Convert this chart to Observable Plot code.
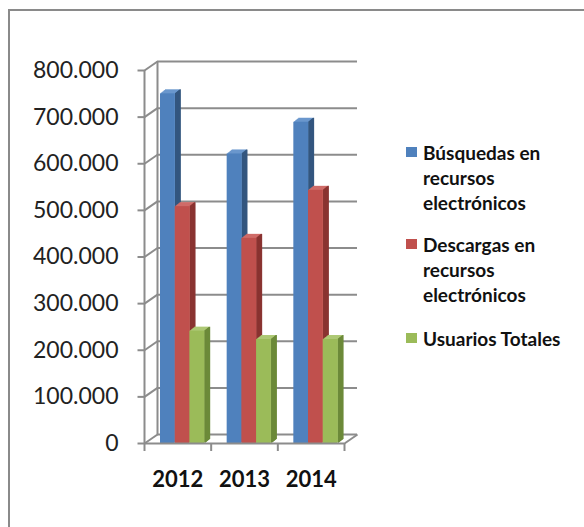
<!DOCTYPE html>
<html>
<head>
<meta charset="utf-8">
<script src="https://cdn.jsdelivr.net/npm/d3@7"></script>
<script src="https://cdn.jsdelivr.net/npm/@observablehq/plot@0.6"></script>
<style>
  html, body { margin: 0; padding: 0; background: #fff; overflow: hidden; }
  #wrap { position: relative; width: 584px; height: 527px; }
  #frame { position: absolute; left: 8px; top: 9px; width: 700px; height: 700px;
           border-left: 2px solid #8a8a8a; border-top: 2px solid #8a8a8a; }
  #chart { position: absolute; left: 0; top: 0; }
  .leg { position: absolute; left: 406px; font-family: Lato, "Open Sans", sans-serif;
         font-weight: bold; font-size: 19px; line-height: 25px; color: #111; }
  .leg .sw { position: absolute; left: 0; top: 7px; width: 11px; height: 10px; }
  .leg .tx { position: absolute; left: 17px; top: 0; width: 175px; white-space: nowrap; }
</style>
</head>
<body>
<div id="wrap">
  <div id="frame"></div>
  <div id="chart"></div>
</div>
<script>
// ---- data ----
const years = ["2012", "2013", "2014"];
const busquedas = [750000, 621000, 689000];
const descargas = [508000, 440000, 543000];
const usuarios  = [241000, 223000, 223000];
const seriesNames = [
  ["Búsquedas en", "recursos", "electrónicos"],
  ["Descargas en", "recursos", "electrónicos"],
  ["Usuarios Totales"]
];
const yTicks = [0, 100000, 200000, 300000, 400000, 500000, 600000, 700000, 800000];

// ---- styles ----
const frontColors = ["#4f81bd", "#c0504d", "#9bbb59"];
const topColors   = ["#6a97cd", "#cf6b68", "#adc874"];
const sideColors  = ["#34577f", "#8a3432", "#6c8a3a"];
const gridColor = "#8c8c8c";

// ---- layout (pixels) ----
const W = 380, H = 527;
const mL = 144, mR = 36, mT = 70, mB = 84;
const plotW = W - mL - mR, plotH = H - mT - mB;
const xMax = years.length, yMax = yTicks[yTicks.length - 1];
const px2x = xMax / plotW, px2y = yMax / plotH;
const WALL_DX = 13, WALL_DY = -9;     // depth of the walls, px
const BAR_DX = 5, BAR_DY = -4;        // depth of the bars, px
const barStart = 16 * px2x, barW = 14.7 * px2x;

const values = [busquedas, descargas, usuarios];
const rows = years.flatMap((yr, i) => values.map((vals, j) => ({year: yr, i, j, value: vals[i]})));
const bx1 = d => d.i + barStart + d.j * barW;
const bx2 = d => d.i + barStart + (d.j + 1) * barW;

const fmt = d => d === 0 ? "0" : d3.format(",")(d).replace(/,/g, ".");

const marks = [
  // back wall gridlines
  Plot.ruleY(yTicks, {x1: 0, x2: xMax, y: d => d, dx: WALL_DX, dy: WALL_DY, stroke: gridColor, strokeWidth: 2}),
  // back wall left edge
  Plot.ruleX([0], {x: d => d, y1: 0, y2: yMax, dx: WALL_DX, dy: WALL_DY, stroke: gridColor, strokeWidth: 2}),
  // side wall diagonals
  Plot.link(yTicks, {x1: 0, y1: d => d, x2: WALL_DX * px2x, y2: d => d - WALL_DY * px2y, stroke: gridColor, strokeWidth: 2}),
  // front axis line
  Plot.ruleX([0], {x: d => d, y1: 0, y2: yMax, stroke: gridColor, strokeWidth: 2}),
  // y ticks
  Plot.link(yTicks, {x1: -7 * px2x, x2: 0, y1: d => d, y2: d => d, stroke: gridColor, strokeWidth: 2}),
  // floor right diagonal
  Plot.link([0], {x1: xMax, y1: 0, x2: xMax + WALL_DX * px2x, y2: -WALL_DY * px2y, stroke: gridColor, strokeWidth: 2})
];

const STEPS = 6;
values.forEach((_, j) => {
  const data = rows.filter(r => r.j === j);
  for (let k = 1; k <= STEPS; k++) {
    marks.push(Plot.rect(data, {x1: bx1, x2: bx2, y1: 0, y2: "value", fill: topColors[j],
      dx: k * BAR_DX / STEPS, dy: k * BAR_DY / STEPS}));
  }
  for (let k = 0.5; k <= STEPS; k += 0.5) {
    marks.push(Plot.ruleX(data, {x: bx2, y1: 0, y2: "value", stroke: sideColors[j], strokeWidth: 1.2,
      dx: k * BAR_DX / STEPS, dy: k * BAR_DY / STEPS}));
  }
  marks.push(Plot.rect(data, {x1: bx1, x2: bx2, y1: 0, y2: "value", fill: frontColors[j]}));
});

marks.push(
  // floor front edge
  Plot.ruleY([0], {x1: 0, x2: xMax, y: d => d, stroke: gridColor, strokeWidth: 2}),
  // category ticks
  Plot.ruleX(d3.range(years.length + 1), {x: d => d, y1: 0, y2: -8 * px2y, stroke: gridColor, strokeWidth: 2}),
  // year labels
  Plot.text(years, {x: (d, i) => i + 0.5, y: () => 0, text: d => d, dy: 36, fontSize: 22,
    fontWeight: "bold", fill: "#111"})
);

const chart = Plot.plot({
  width: W, height: H,
  marginLeft: mL, marginRight: mR, marginTop: mT, marginBottom: mB,
  x: {domain: [0, xMax], axis: null},
  y: {domain: [0, yMax], ticks: yTicks, tickFormat: fmt, tickSize: 0, tickPadding: 26, label: null},
  style: {fontFamily: "Lato, 'Open Sans', sans-serif", fontSize: "23px", color: "#222",
          background: "transparent", overflow: "visible"},
  marks
});
document.getElementById("chart").appendChild(chart);

// ---- legend ----
const legendTops = [139.5, 231.5, 325.5];
const wrap = document.getElementById("wrap");
seriesNames.forEach((lines, j) => {
  const div = document.createElement("div");
  div.className = "leg";
  div.style.top = legendTops[j] + "px";
  const sw = document.createElement("div");
  sw.className = "sw";
  sw.style.background = frontColors[j];
  const tx = document.createElement("div");
  tx.className = "tx";
  tx.innerHTML = lines.join("<br>");
  div.appendChild(sw);
  div.appendChild(tx);
  wrap.appendChild(div);
});
</script>
</body>
</html>
